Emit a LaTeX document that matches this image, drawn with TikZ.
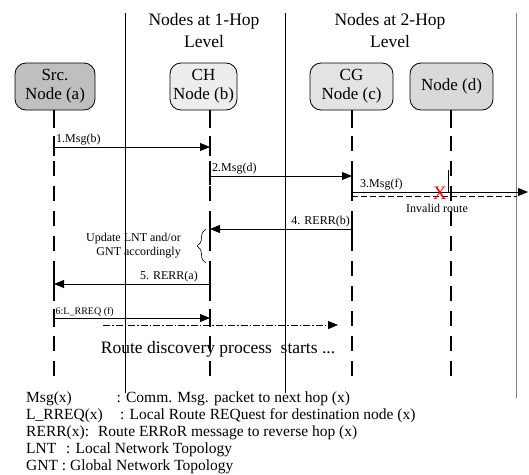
\documentclass[tikz,border=0pt]{standalone}
\usepackage{fontspec}
\setmainfont{Liberation Serif}
\usetikzlibrary{arrows.meta,decorations.pathreplacing}

\begin{document}
\begin{tikzpicture}[x=1pt, y=-1pt,
  box/.style={draw, line width=0.8pt, rounded corners=11pt, minimum height=47pt,
    inner sep=0pt, align=center, font=\fontsize{17}{19}\selectfont},
  head/.style={align=center, font=\fontsize{17.5}{22}\selectfont},
  stub/.style={line width=2pt},
  life/.style={line width=2.2pt, dash pattern=on 15pt off 10pt},
  msg/.style={-{Triangle[length=10pt,width=8pt]}, line width=0.8pt},
  lbl/.style={font=\fontsize{12}{14}\selectfont, inner sep=2pt},
  key/.style={anchor=base west, inner sep=0pt, font=\fontsize{15.5}{17}\selectfont}]
  \useasboundingbox (0,0) rectangle (529,474);

  % level separators
  \draw[line width=0.8pt] (125,13) -- (125,393);
  \draw[line width=0.8pt] (285.5,13) -- (285.5,393);
  \draw[line width=0.8pt, gray] (516,13) -- (516,398);
  \node[head] (hop1) at (204,31) {Nodes at 1-Hop\\Level};
  \node[head] (hop2) at (390,31) {Nodes at 2-Hop\\Level};

  % nodes
  \node[box, fill=gray!50, minimum width=80pt] (src) at (55,86.5) {Src.\\Node (a)};
  \node[box, fill=gray!14, minimum width=67pt] (ch) at (203.5,86.5) {CH\\Node (b)};
  \node[box, fill=gray!22, minimum width=83pt] (cg) at (351.5,86.5) {CG\\Node (c)};
  \node[box, fill=gray!30, minimum width=83pt] (nd) at (451.5,86.5) {Node (d)};

  % lifelines
  \coordinate (la) at (54,110);  \coordinate (ea) at (54,381);
  \coordinate (lb) at (210,110); \coordinate (eb) at (210,381);
  \coordinate (lc) at (352,110); \coordinate (ec) at (352,381);
  \coordinate (ld) at (451,110); \coordinate (ed) at (451,381);
  \foreach \l/\e in {la/ea, lb/eb, lc/ec, ld/ed} {
    \draw[stub] (\l) -- ++(0,18);
    \draw[life] (\l) ++(0,26) -- (\e);
  }
  \foreach \x/\y in {54/147, 210/147, 210/176, 352/176, 352/192, 352/229,
                     210/229, 210/284, 54/284, 54/318, 210/318}
    \draw[stub] (\x,\y-9) -- (\x,\y+9);
  \draw[line width=0.5pt] (448,170) -- (448,192);

  % 1.Msg(b)
  \coordinate (a1) at (54,147); \coordinate (b1) at (210,147);
  \draw[msg] (a1) -- (b1);
  \node[lbl, above right] (l1) at (a1) {1.Msg(b)};
  % 2.Msg(d)
  \coordinate (b2) at (210,176); \coordinate (c2) at (352,176);
  \draw[msg] (b2) -- (c2);
  \node[lbl, above right] (l2) at (b2) {2.Msg(d)};
  % 3.Msg(f), broken link
  \coordinate (c3) at (352,192); \coordinate (f3) at (528,192);
  \coordinate (c3d) at (352,196); \coordinate (f3d) at (517,196);
  \draw[msg] (c3) -- (f3);
  \draw[line width=0.8pt, dash pattern=on 6pt off 3pt] (c3d) -- (f3d);
  \node[lbl, above right] (l3) at (358,192) {3.Msg(f)};
  \node[text=red, inner sep=0pt, font=\fontsize{19}{19}\selectfont] (cut) at (440,193) {X};
  \node[lbl, inner sep=1pt] (inv) at (437,208) {Invalid route};
  % 4. RERR(b)
  \coordinate (c4) at (352,229); \coordinate (b4) at (210,229);
  \draw[msg] (c4) -- (b4);
  \node[lbl, above left] (l4) at (c4) {4. RERR(b)};
  % update at CH
  \coordinate (br1) at (206,263); \coordinate (br2) at (206,229);
  \draw[line width=0.6pt, decorate, decoration={brace, amplitude=9pt}] (br1) -- (br2);
  \node[lbl, align=right, anchor=east] (upd) at (183,246) {Update LNT and/or\\GNT accordingly};
  % 5. RERR(a)
  \coordinate (b5) at (210,284); \coordinate (a5) at (54,284);
  \draw[msg] (b5) -- (a5);
  \node[lbl, above left] (l5) at (200,284) {5. RERR(a)};
  % 6:L_RREQ (f)
  \coordinate (a6) at (54,318); \coordinate (b6) at (210,318);
  \draw[msg] (a6) -- (b6);
  \node[lbl, above right, inner sep=1.5pt, font=\fontsize{10}{12}\selectfont] (l6) at (a6) {6:L\_RREQ (f)};
  % route discovery
  \coordinate (p1) at (103,325); \coordinate (p2) at (338,325);
  \draw[msg, dash pattern=on 7pt off 2pt on 1.5pt off 2pt] (p1) -- (p2);
  \node[font=\fontsize{17.5}{20}\selectfont] (route) at (218,349) {Route discovery process~ starts ...};

  % key
  \node[key] (k1) at (26,402) {\makebox[90.5pt][l]{Msg(x)}: Comm. Msg. packet to next hop (x)};
  \node[key] (k2) at (26,419) {\makebox[94pt][l]{L\_RREQ(x)}: Local Route REQuest for destination node (x)};
  \node[key] (k3) at (26,436) {RERR(x):~ Route ERRoR message to reverse hop (x)};
  \node[key] (k4) at (26,453) {\makebox[40pt][l]{LNT}: Local Network Topology};
  \node[key] (k5) at (26,470) {GNT : Global Network Topology};
\end{tikzpicture}
\end{document}
